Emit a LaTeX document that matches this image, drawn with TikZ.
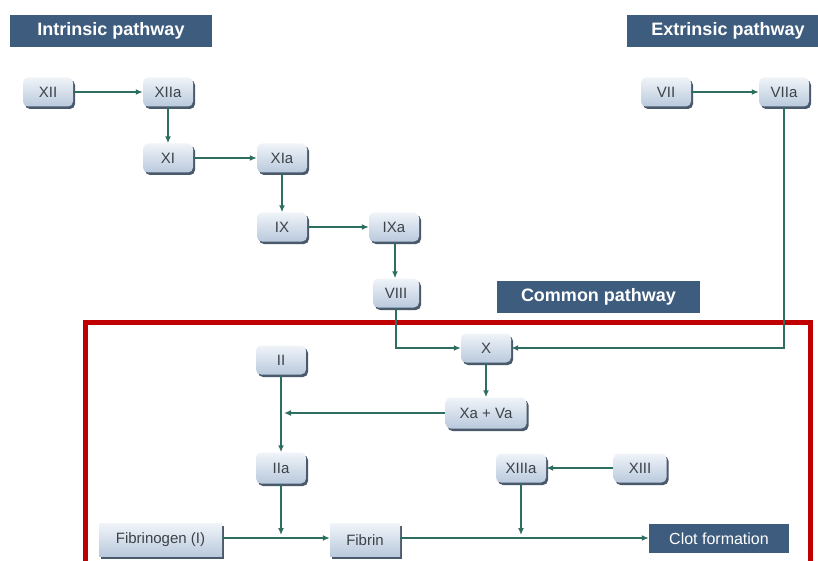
\documentclass[tikz,border=0pt]{standalone}
\usepackage{fontspec}
\setmainfont{Liberation Sans}
\usetikzlibrary{arrows.meta,shadows}
\definecolor{navybox}{HTML}{3E5C7E}
\definecolor{linecol}{HTML}{2E6E60}
\definecolor{nodetop}{HTML}{F0F4F9}
\definecolor{nodebot}{HTML}{B9C9DC}
\definecolor{shadowcol}{HTML}{4A596B}
\definecolor{nodetext}{HTML}{3C4248}
\definecolor{redframe}{HTML}{C00000}
\tikzset{
  fac/.style={rounded corners=5pt, minimum width=50pt, minimum height=29pt, inner sep=2pt,
    top color=nodetop, bottom color=nodebot, text=nodetext,
    font=\fontsize{15}{15}\selectfont,
    drop shadow={shadow xshift=2pt, shadow yshift=-2.5pt, fill=shadowcol, opacity=1}},
  sqbox/.style={fac, sharp corners, minimum height=33pt},
  title/.style={fill=navybox, text=white, font=\bfseries\fontsize{18}{18}\selectfont,
    minimum height=32pt, inner sep=0pt},
  clotbox/.style={fill=navybox, text=white, font=\fontsize{16}{16}\selectfont,
    minimum height=29pt, minimum width=140pt, inner sep=0pt},
  arr/.style={draw=linecol, line width=2.2pt, -{Latex[length=7pt,width=6pt]}},
}
\begin{document}
\begin{tikzpicture}[x=1pt,y=-1pt]
\useasboundingbox (0,0) rectangle (818,561);
\begin{scope}
\clip (0,0) rectangle (818,561);
% red frame
\draw[redframe, line width=5pt] (85.5,322) rectangle (810,620);
% titles
\node[title, minimum width=202pt] (tin) at (111,31) {Intrinsic pathway};
\node[title, minimum width=203pt] (tex) at (728,31) {Extrinsic pathway};
\node[title, minimum width=203pt] (tco) at (598.5,297) {Common pathway};
\end{scope}
% intrinsic
\node[fac] (XII)  at (48,92)  {XII};
\node[fac] (XIIa) at (168,92) {XIIa};
\node[fac] (XI)   at (168,158) {XI};
\node[fac] (XIa)  at (282,158) {XIa};
\node[fac] (IX)   at (282,227) {IX};
\node[fac] (IXa)  at (394,227) {IXa};
\node[fac, minimum width=46pt] (VIII) at (396,293) {VIII};
% extrinsic
\node[fac] (VII)  at (666,92) {VII};
\node[fac] (VIIa) at (784,92) {VIIa};
% common
\node[fac] (X)    at (486,348) {X};
\node[fac] (II)   at (281,360) {II};
\node[fac, minimum width=81pt, minimum height=31pt] (XaVa) at (486,413) {Xa + Va};
\node[fac, minimum height=31pt] (IIa) at (281,468) {IIa};
\node[fac] (XIIIa) at (521,468) {XIIIa};
\node[fac, minimum width=53pt] (XIII) at (640,468) {XIII};
\node[sqbox, minimum width=123pt] (Fbg) at (160.5,540) {Fibrinogen (I)};
\node[sqbox, minimum width=70pt] (Fbn) at (365,540) {Fibrin};
\node[clotbox] (Clot) at (719,538.5) {Clot formation};
% junction coordinates
\coordinate (j1) at (281,413);
\coordinate (j2) at (281,538);
\coordinate (j3) at (521,538);
% connectors
\draw[arr] (XII) -- (XIIa);
\draw[arr] (XIIa) -- (XI);
\draw[arr] (XI) -- (XIa);
\draw[arr] (XIa) -- (IX);
\draw[arr] (IX) -- (IXa);
\draw[arr] (IXa.south -| 395,0) -- (VIII.north -| 395,0);
\draw[arr] (VII) -- (VIIa);
\draw[arr] (VIII.south) |- (X.west);
\draw[arr] (VIIa.south) |- (X.east);
\draw[arr] (X) -- (XaVa);
\draw[arr] (II) -- (IIa);
\draw[arr, shorten >=3pt] (XaVa.west) -- (j1);
\draw[arr, shorten >=3pt] (IIa) -- (j2);
\draw[arr] (Fbg.east |- j2) -- (Fbn.west |- j2);
\draw[arr] (XIII) -- (XIIIa);
\draw[arr, shorten >=3pt] (XIIIa) -- (j3);
\draw[arr] (Fbn.east |- j3) -- (Clot.west |- j3);
\end{tikzpicture}
\end{document}
